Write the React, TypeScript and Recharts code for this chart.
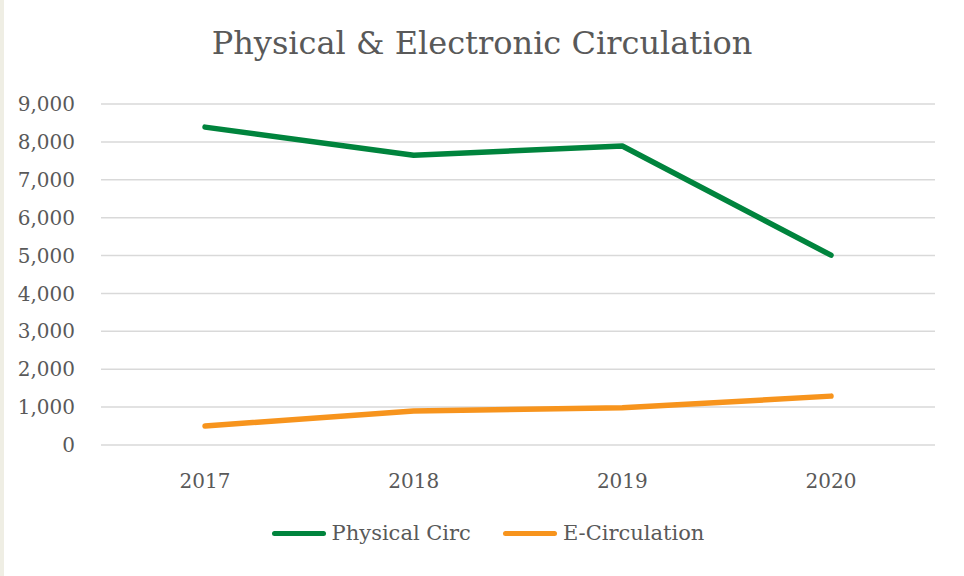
import { LineChart, Line, XAxis, YAxis, CartesianGrid } from "recharts"

const years = ["2017", "2018", "2019", "2020"]
const physicalCirc = [8390, 7650, 7890, 5010]
const eCirculation = [500, 900, 980, 1290]
const yTicks = [0, 1000, 2000, 3000, 4000, 5000, 6000, 7000, 8000, 9000]

const data = years.map((year, i) => ({
    year,
    physical: physicalCirc[i],
    ecirc: eCirculation[i]
}))

const GREEN = "#00843d"
const ORANGE = "#f7941d"
const TEXT = "#595959"
const FONT = "'DejaVu Serif', serif"

const fmt = (v: number) => v.toLocaleString("en-US")

export default function App() {
    return (
        <div style={{ position: "absolute", left: 0, top: 0, width: 964, height: 576, background: "#fff", fontFamily: FONT }}>
            <div style={{ position: "absolute", left: 0, top: 0, width: 4, height: 576, background: "#efeee4" }} />
            <div style={{ position: "absolute", top: 24, left: 0, width: 964, textAlign: "center", fontSize: 32, color: TEXT }}>
                Physical &amp; Electronic Circulation
            </div>
            <LineChart
                width={964}
                height={576}
                data={data}
                margin={{ top: 104, right: 29, bottom: 71, left: 0 }}
            >
                <CartesianGrid vertical={false} stroke="#d9d9d9" strokeWidth={1.5} />
                <XAxis
                    dataKey="year"
                    axisLine={false}
                    tickLine={false}
                    tickSize={0}
                    tickMargin={29}
                    height={60}
                    padding={{ left: 104, right: 104 }}
                    tick={{ fill: TEXT, fontSize: 20, fontFamily: FONT }}
                />
                <YAxis
                    domain={[0, 9000]}
                    ticks={yTicks}
                    tickFormatter={fmt}
                    axisLine={false}
                    tickLine={false}
                    tickSize={0}
                    tickMargin={26}
                    width={101}
                    interval={0}
                    tick={{ fill: TEXT, fontSize: 20, fontFamily: FONT }}
                />
                <Line dataKey="physical" stroke={GREEN} strokeWidth={5.5} dot={false} strokeLinecap="round" strokeLinejoin="round" isAnimationActive={false} />
                <Line dataKey="ecirc" stroke={ORANGE} strokeWidth={5.5} dot={false} strokeLinecap="round" strokeLinejoin="round" isAnimationActive={false} />
            </LineChart>
            <div style={{ position: "absolute", top: 521, left: 6, width: 964, display: "flex", justifyContent: "center", alignItems: "center", fontSize: 21, color: TEXT }}>
                <span style={{ display: "inline-block", width: 54, height: 5, borderRadius: 3, background: GREEN, marginRight: 6 }} />
                <span style={{ marginRight: 32 }}>Physical Circ</span>
                <span style={{ display: "inline-block", width: 54, height: 5, borderRadius: 3, background: ORANGE, marginRight: 6 }} />
                <span>E-Circulation</span>
            </div>
        </div>
    )
}
